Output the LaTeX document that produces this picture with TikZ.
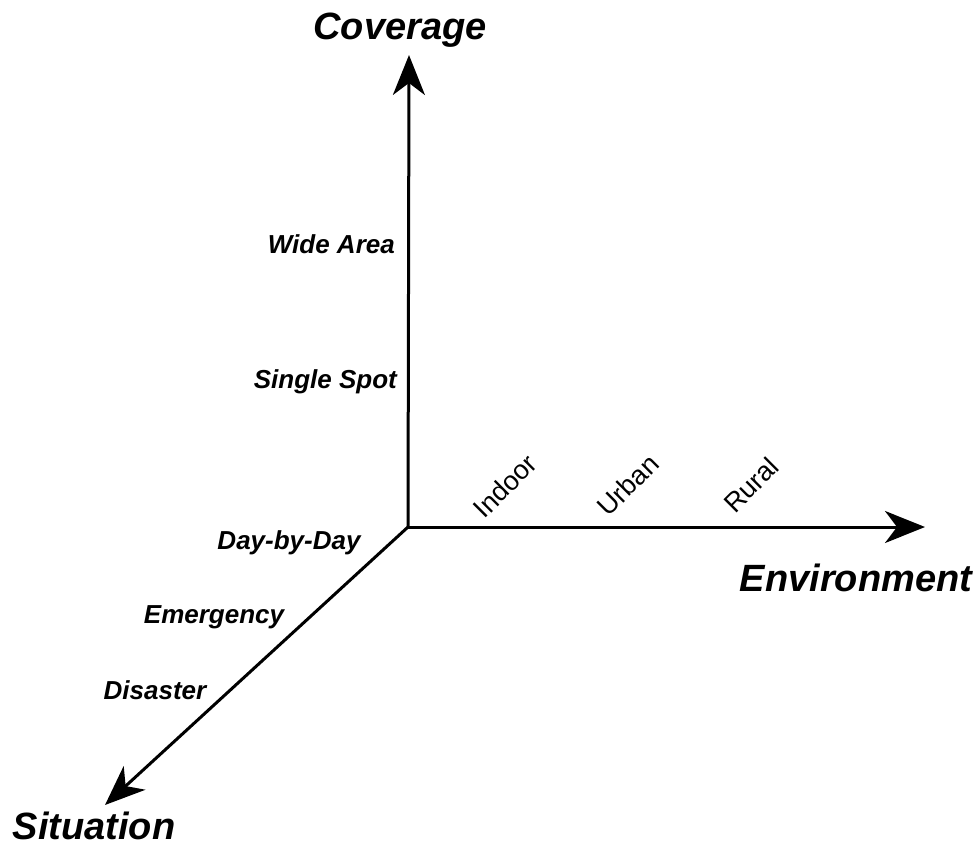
\documentclass[tikz,border=0pt]{standalone}
\usepackage{fontspec}
\setmainfont{Liberation Sans}
\usetikzlibrary{arrows.meta}
\tikzset{
  axis/.style={line width=3pt, -{Stealth[length=40pt,width=32pt,inset=12pt]}},
  axisname/.style={font=\fontsize{38}{40}\selectfont\bfseries\itshape, inner sep=0pt},
  level/.style={font=\fontsize{26}{28}\selectfont\bfseries\itshape, inner sep=0pt},
  envlevel/.style={font=\fontsize{27}{29}\selectfont, inner sep=0pt, rotate=45}
}
\begin{document}
\begin{tikzpicture}[x=1pt,y=-1pt]
  \useasboundingbox (0,0) rectangle (979,845);
  % axes
  \coordinate (O) at (408,527);
  \coordinate (covtip) at (409,55);
  \coordinate (envtip) at (925,527);
  \coordinate (sittip) at (105,805);
  \draw[axis] (O) -- (covtip);
  \draw[axis] (O) -- (envtip);
  \draw[axis] (O) -- (sittip);
  % axis names
  \node[axisname] (coverage) at (400,30) {Coverage};
  \node[axisname] (environment) at (856,578) {Environment};
  \node[axisname] (situation) at (94,826) {Situation};
  % coverage levels
  \node[level, anchor=east] (widearea) at (395,244) {Wide Area};
  \node[level, anchor=east] (singlespot) at (397,382) {Single Spot};
  % situation levels
  \node[level] (daybyday) at (289,543) {Day-by-Day};
  \node[level] (emergency) at (214,617) {Emergency};
  \node[level] (disaster) at (155,690) {Disaster};
  % environment levels
  \node[envlevel] (indoor) at (505,486) {Indoor};
  \node[envlevel] (urban) at (628,485) {Urban};
  \node[envlevel] (rural) at (751,485) {Rural};
\end{tikzpicture}
\end{document}
